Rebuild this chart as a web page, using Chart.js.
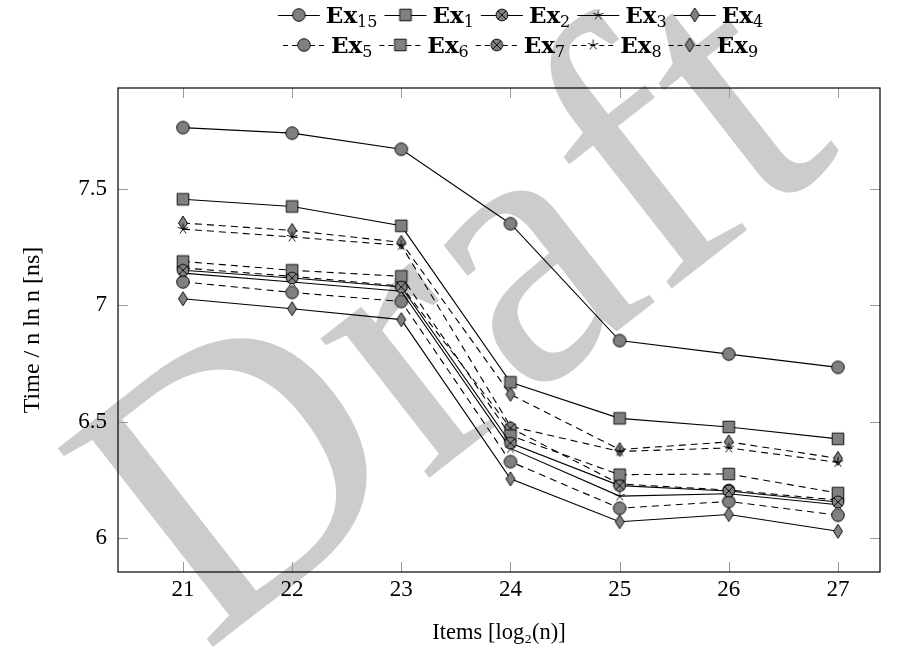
<!DOCTYPE html>
<html>
<head>
<meta charset="utf-8">
<script src="https://cdn.jsdelivr.net/npm/chart.js@4.4.0/dist/chart.umd.min.js"></script>
<style>
html, body { margin: 0; padding: 0; background: #fff; }
</style>
</head>
<body>
<canvas id="grafica" width="899" height="656"></canvas>
<script>
// eje x: log2(n)
const itemsLog2 = [21, 22, 23, 24, 25, 26, 27];
const yTicks = [6, 6.5, 7, 7.5];

// series (ns por n ln n)
const ex15 = [7.763, 7.739, 7.670, 7.350, 6.848, 6.790, 6.733];
const ex1  = [7.455, 7.424, 7.341, 6.669, 6.514, 6.477, 6.426];
const ex2  = [7.150, 7.117, 7.078, 6.408, 6.225, 6.202, 6.155];
const ex3  = [7.138, 7.100, 7.060, 6.385, 6.180, 6.190, 6.143];
const ex4  = [7.028, 6.985, 6.938, 6.254, 6.070, 6.101, 6.029];
const ex5  = [7.100, 7.055, 7.016, 6.328, 6.128, 6.157, 6.098];
const ex6  = [7.188, 7.150, 7.124, 6.440, 6.272, 6.275, 6.193];
const ex7  = [7.160, 7.124, 7.082, 6.473, 6.232, 6.206, 6.163];
const ex8  = [7.327, 7.293, 7.257, 6.480, 6.372, 6.387, 6.325];
const ex9  = [7.353, 7.321, 7.270, 6.617, 6.380, 6.413, 6.342];

const SERIF = '"Liberation Serif", "DejaVu Serif", serif';
const SERIF_WIDE = '"DejaVu Serif", serif';

// marcadores dibujados en un canvas pequeño
function makeMarker(kind) {
    const c = document.createElement('canvas');
    c.width = 18; c.height = 18;
    const g = c.getContext('2d');
    const m = 9;
    g.lineWidth = 0.9;
    g.strokeStyle = '#000';
    g.fillStyle = '#808080';
    g.beginPath();
    if (kind === 'circle') {
        g.arc(m, m, 6.3, 0, 2 * Math.PI);
        g.fill(); g.stroke();
    } else if (kind === 'square') {
        g.rect(m - 5.8, m - 5.8, 11.6, 11.6);
        g.fill(); g.stroke();
    } else if (kind === 'otimes') {
        g.arc(m, m, 5.9, 0, 2 * Math.PI);
        g.fill(); g.stroke();
        const d = 5.9 * Math.SQRT1_2;
        g.beginPath();
        g.moveTo(m - d, m - d); g.lineTo(m + d, m + d);
        g.moveTo(m + d, m - d); g.lineTo(m - d, m + d);
        g.stroke();
    } else if (kind === 'star') {
        for (let k = 0; k < 5; k++) {
            const a = -Math.PI / 2 + k * 2 * Math.PI / 5;
            g.moveTo(m, m);
            g.lineTo(m + 5.5 * Math.cos(a), m + 5.5 * Math.sin(a));
        }
        g.stroke();
    } else if (kind === 'diamond') {
        g.moveTo(m, m - 7); g.lineTo(m + 4.5, m); g.lineTo(m, m + 7); g.lineTo(m - 4.5, m);
        g.closePath();
        g.fill(); g.stroke();
    }
    return c;
}

const series = [
    { sub: '15', data: ex15, mark: 'circle',  dashed: false },
    { sub: '1',  data: ex1,  mark: 'square',  dashed: false },
    { sub: '2',  data: ex2,  mark: 'otimes',  dashed: false },
    { sub: '3',  data: ex3,  mark: 'star',    dashed: false },
    { sub: '4',  data: ex4,  mark: 'diamond', dashed: false },
    { sub: '5',  data: ex5,  mark: 'circle',  dashed: true },
    { sub: '6',  data: ex6,  mark: 'square',  dashed: true },
    { sub: '7',  data: ex7,  mark: 'otimes',  dashed: true },
    { sub: '8',  data: ex8,  mark: 'star',    dashed: true },
    { sub: '9',  data: ex9,  mark: 'diamond', dashed: true }
];
const DASH = [7, 5];

const datasets = series.map(s => ({
    label: 'Ex' + s.sub,
    data: itemsLog2.map((x, i) => ({ x: x, y: s.data[i] })),
    borderColor: '#000',
    borderWidth: 1.1,
    borderDash: s.dashed ? DASH : [],
    fill: false,
    tension: 0,
    pointStyle: makeMarker(s.mark),
    pointRadius: 6,
    pointHoverRadius: 6,
    _sub: s.sub,
    _dashed: s.dashed
}));

// marca de agua "Draft" detrás de todo
const watermark = {
    id: 'watermark',
    beforeDraw(chart) {
        const ctx = chart.ctx;
        ctx.save();
        ctx.fillStyle = '#fff';
        ctx.fillRect(0, 0, chart.width, chart.height);
        ctx.translate(462, 324);
        ctx.rotate(-38 * Math.PI / 180);
        ctx.fillStyle = '#cccccc';
        ctx.font = '385px ' + SERIF;
        ctx.textAlign = 'center';
        ctx.textBaseline = 'middle';
        ctx.fillText('Draft', 0, 0);
        ctx.restore();
    }
};

// marco y marcas interiores al estilo pgfplots
const frame = {
    id: 'frame',
    beforeDatasetsDraw(chart) {
        const { ctx, chartArea: a, scales } = chart;
        ctx.save();
        ctx.strokeStyle = '#9a9a9a';
        ctx.lineWidth = 1;
        ctx.beginPath();
        itemsLog2.forEach(v => {
            const px = Math.round(scales.x.getPixelForValue(v)) + 0.5;
            ctx.moveTo(px, a.bottom); ctx.lineTo(px, a.bottom - 10);
            ctx.moveTo(px, a.top); ctx.lineTo(px, a.top + 10);
        });
        yTicks.forEach(v => {
            const py = Math.round(scales.y.getPixelForValue(v)) + 0.5;
            ctx.moveTo(a.left, py); ctx.lineTo(a.left + 10, py);
            ctx.moveTo(a.right, py); ctx.lineTo(a.right - 10, py);
        });
        ctx.stroke();
        ctx.strokeStyle = '#000';
        ctx.lineWidth = 1.2;
        ctx.strokeRect(a.left, a.top, a.right - a.left, a.bottom - a.top);
        ctx.restore();
    }
};

// leyenda en dos filas con subíndices
const legend2 = {
    id: 'legend2',
    afterDraw(chart) {
        const ctx = chart.ctx;
        const dsList = chart.data.datasets;
        const rows = [dsList.slice(0, 5), dsList.slice(5)];
        const rowY = [15, 45];
        const bigFont = 'bold 23px ' + SERIF_WIDE;
        const subFont = '16px ' + SERIF_WIDE;
        const sampleW = 42;
        ctx.save();
        rows.forEach((row, r) => {
            const widths = row.map(ds => {
                ctx.font = bigFont;
                const w1 = ctx.measureText('Ex').width;
                ctx.font = subFont;
                const w2 = ctx.measureText(ds._sub).width;
                return sampleW + 6 + w1 + w2 + 7;
            });
            const total = widths.reduce((p, q) => p + q, 0);
            let x = 524 - total / 2;
            const y = rowY[r];
            row.forEach((ds, i) => {
                ctx.strokeStyle = '#000';
                ctx.lineWidth = 1.1;
                ctx.setLineDash(ds._dashed ? [5, 4] : []);
                ctx.beginPath();
                ctx.moveTo(x, y + 0.5); ctx.lineTo(x + sampleW, y + 0.5);
                ctx.stroke();
                ctx.setLineDash([]);
                const img = ds.pointStyle;
                ctx.drawImage(img, x + sampleW / 2 - img.width / 2, y - img.height / 2);
                let tx = x + sampleW + 6;
                ctx.fillStyle = '#000';
                ctx.textBaseline = 'alphabetic';
                ctx.font = bigFont;
                ctx.fillText('Ex', tx, y + 8);
                tx += ctx.measureText('Ex').width;
                ctx.font = subFont;
                ctx.fillText(ds._sub, tx, y + 12);
                x += widths[i];
            });
        });
        ctx.restore();
    }
};

new Chart(document.getElementById('grafica').getContext('2d'), {
    type: 'line',
    data: { datasets: datasets },
    options: {
        responsive: false,
        animation: false,
        devicePixelRatio: 1,
        layout: { padding: { top: 88, right: 19, bottom: 0, left: 0 } },
        plugins: {
            legend: { display: false },
            tooltip: { enabled: false }
        },
        scales: {
            x: {
                type: 'linear',
                min: 20.405,
                max: 27.385,
                afterBuildTicks: s => { s.ticks = itemsLog2.map(v => ({ value: v })); },
                afterFit: s => { s.height = 84; },
                grid: { display: false, drawTicks: false },
                border: { display: false },
                ticks: {
                    color: '#000',
                    padding: 4,
                    font: { family: SERIF, size: 23 },
                    callback: v => String(v)
                },
                title: {
                    display: true,
                    text: 'Items [log\u2082(n)]',
                    color: '#000',
                    font: { family: SERIF, size: 22.5 },
                    padding: { top: 0, bottom: 9 }
                }
            },
            y: {
                type: 'linear',
                min: 5.854,
                max: 7.933,
                afterBuildTicks: s => { s.ticks = yTicks.map(v => ({ value: v })); },
                afterFit: s => { s.width = 118; },
                grid: { display: false, drawTicks: false },
                border: { display: false },
                ticks: {
                    color: '#000',
                    padding: 11,
                    font: { family: SERIF, size: 23 },
                    callback: v => String(v)
                },
                title: {
                    display: true,
                    text: 'Time / n ln n [ns]',
                    color: '#000',
                    font: { family: SERIF, size: 24 },
                    padding: { top: 18, bottom: 0 }
                }
            }
        }
    },
    plugins: [watermark, frame, legend2]
});
</script>
</body>
</html>
